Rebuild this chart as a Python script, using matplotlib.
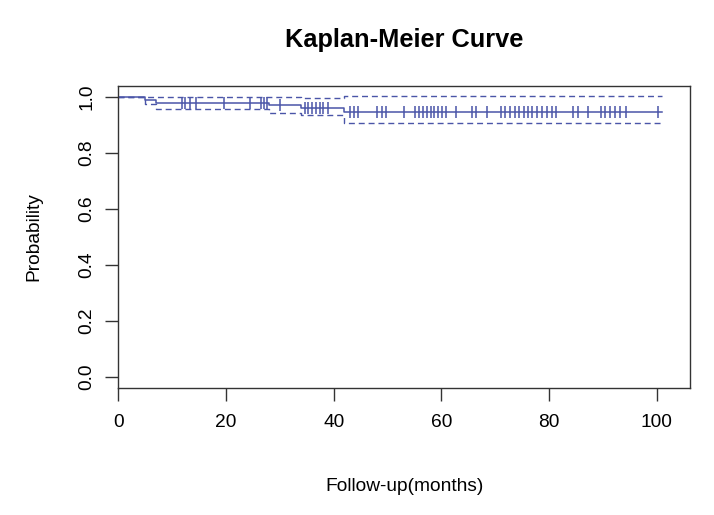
import numpy as np
import matplotlib.pyplot as plt

plt.rcParams['font.family'] = ['Liberation Sans', 'DejaVu Sans']

# step times (months) and survival
step_t = [0, 5, 7, 28, 34, 42, 101]
surv = [1.0, 0.990, 0.980, 0.970, 0.960, 0.946, 0.946]
lower = [1.0, 0.975, 0.958, 0.944, 0.935, 0.907, 0.907]
upper = [1.0, 1.0, 1.0, 0.998, 0.997, 1.004, 1.004]

# censoring marks
cens_t = [11.8, 12.4, 13.3, 14.4, 19.6, 24.5, 26.5, 27.1, 27.6, 30.0,
          34.6, 35.3, 36.0, 36.7, 37.4, 38.1, 38.9,
          43.1, 43.8, 44.6, 48.1, 48.9, 49.7, 53.0,
          55.1, 55.9, 56.6, 57.3, 58.0, 58.7, 59.4, 60.1, 60.8, 62.7,
          65.7, 66.5, 68.4,
          71.1, 71.9, 72.8, 73.6, 74.5, 75.3, 76.1, 76.9, 77.7, 78.7, 79.6, 80.5, 81.3,
          84.5, 85.4, 87.3, 89.6, 90.4, 91.4, 92.3, 93.2, 94.3, 100.2]

col = '#4a55a8'

fig = plt.figure(figsize=(7.14, 5.15), dpi=100)
ax = fig.add_axes([0.1657, 0.246, 0.8007, 0.5876])

ax.step(step_t, surv, where='post', color=col, lw=1.1)
ax.step(step_t, lower, where='post', color=col, lw=1.0, dashes=(4.3, 2.8))
ax.step(step_t, upper, where='post', color=col, lw=1.0, dashes=(4.3, 2.8))

# survival is a step function: take the value of the last step before each mark
cens_s = [surv[np.searchsorted(step_t, t, side='right') - 1] for t in cens_t]
ax.plot(cens_t, cens_s, ls='none', marker='|', ms=8.5, mew=1.1, color=col)

ax.set_xlim(0, 106.2)
ax.set_ylim(-0.04, 1.04)
ax.set_xticks([0, 20, 40, 60, 80, 100])
ax.set_yticks([0.0, 0.2, 0.4, 0.6, 0.8, 1.0])
ax.set_yticklabels(['0.0', '0.2', '0.4', '0.6', '0.8', '1.0'], rotation=90, va='center')

for s in ax.spines.values():
    s.set_color('#333333')
    s.set_linewidth(1.0)
ax.tick_params(length=9.4, width=1.0, color='#333333', labelsize=13.8, pad=7)
ax.tick_params(axis='x', pad=9)

ax.set_xlabel('Follow-up(months)', fontsize=13.8, labelpad=34)
ax.set_ylabel('Probability', fontsize=13.8, labelpad=26)
ax.set_title('Kaplan-Meier Curve', fontsize=18.3, fontweight='bold', pad=28)

fig.savefig('out.png', dpi=100)
